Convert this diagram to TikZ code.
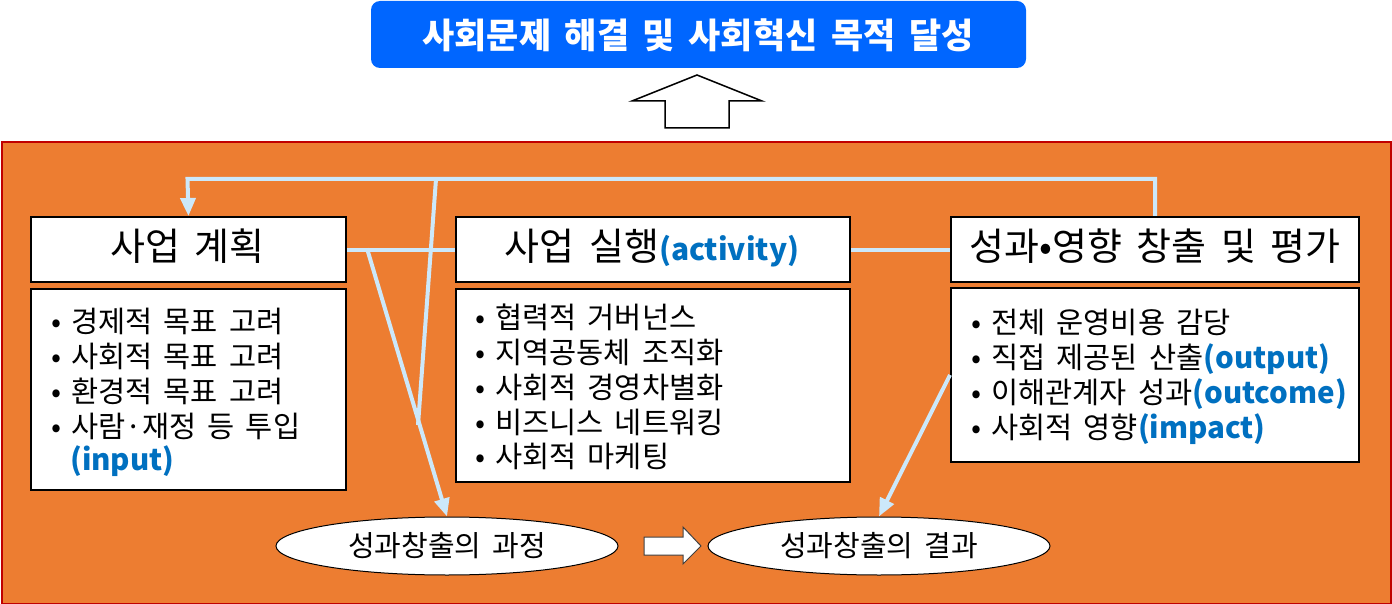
\documentclass[tikz,border=0pt]{standalone}
\usepackage{fontspec}
\setmainfont{Noto Sans CJK KR}
\newfontfamily\kr[WordSpace=1.7]{Noto Sans CJK KR}
\usetikzlibrary{arrows.meta,shapes.geometric}
\definecolor{topblue}{RGB}{0,102,255}
\definecolor{orangebg}{RGB}{237,125,49}
\definecolor{redborder}{RGB}{192,0,0}
\definecolor{conncol}{RGB}{204,232,250}
\definecolor{txtblue}{RGB}{0,112,192}
\tikzset{
  box/.style={draw=black,line width=2pt,fill=white,inner sep=0pt,anchor=north west},
  ttl/.style={anchor=base,inner sep=0pt,font=\kr\fontsize{38}{42}\selectfont},
  item/.style={anchor=base west,inner sep=0pt,font=\kr\fontsize{29.5}{35}\selectfont},
  conn/.style={draw=conncol,line width=4pt},
  tip/.style={-{Triangle[length=18pt,width=15pt]}},
  oval/.style={ellipse,draw=black,line width=1pt,fill=white,minimum width=342pt,minimum height=58pt,inner sep=0pt,font=\kr\fontsize{29}{32}\selectfont},
  blk/.style={draw=black,line width=1.5pt,fill=white,line join=miter}
}
\newcommand{\bl}[1]{\textcolor{txtblue}{\bfseries\fontsize{29.5}{35}\selectfont #1}}
\newcommand{\bul}{\makebox[20pt][l]{•}}
\begin{document}
\begin{tikzpicture}[x=1pt,y=-1pt]
\useasboundingbox (0,0) rectangle (1392,604);
% top goal box
\node[draw=none,fill=topblue,rounded corners=9pt,minimum width=655pt,minimum height=67pt,inner sep=0pt] (goal) at (698.5,34.5) {};
\node[anchor=base,inner sep=0pt,text=white,font=\kr\bfseries\fontsize{35}{40}\selectfont] (goaltxt) at (698,49) {사회문제 해결 및 사회혁신 목적 달성};
% up block arrow
\draw[blk] (697,75) -- (762,101) -- (729,101) -- (729,128) -- (665,128) -- (665,101) -- (632,101) -- cycle;
% orange panel
\node[draw=redborder,line width=2pt,fill=orangebg,anchor=north west,minimum width=1389pt,minimum height=462pt,inner sep=0pt] (panel) at (1,141) {};
% title boxes
\node[box,minimum width=315pt,minimum height=65pt] (b1) at (30,216) {};
\node[box,minimum width=394pt,minimum height=65pt] (b2) at (455,216) {};
\node[box,minimum width=408pt,minimum height=65pt] (b3) at (950,216) {};
% list boxes
\node[box,minimum width=315pt,minimum height=201pt] (l1) at (30,288) {};
\node[box,minimum width=394pt,minimum height=193pt] (l2) at (455,288) {};
\node[box,minimum width=408pt,minimum height=174pt] (l3) at (950,287) {};
% titles
\node[ttl] (t1) at (187.5,261) {사업 계획};
\node[ttl] (t2) at (652,261) {사업 실행\bl{\fontsize{30}{35}\selectfont(activity)}};
\node[ttl] (t3) at (1155,261) {성과•영향 창출 및 평가};
% list 1
\node[item] (i11) at (51,332) {\bul 경제적 목표 고려};
\node[item] (i12) at (51,367) {\bul 사회적 목표 고려};
\node[item] (i13) at (51,402) {\bul 환경적 목표 고려};
\node[item] (i14) at (51,437) {\bul 사람·재정 등 투입};
\node[item] (i15) at (70,470) {\bl{(input)}};
% list 2
\node[item] (i21) at (475,328) {\bul 협력적 거버넌스};
\node[item] (i22) at (475,363) {\bul 지역공동체 조직화};
\node[item] (i23) at (475,398) {\bul 사회적 경영차별화};
\node[item] (i24) at (475,433) {\bul 비즈니스 네트워킹};
\node[item] (i25) at (475,467) {\bul 사회적 마케팅};
% list 3
\node[item] (i31) at (971,333) {\bul 전체 운영비용 감당};
\node[item] (i32) at (971,368) {\bul 직접 제공된 산출\bl{(output)}};
\node[item] (i33) at (971,403) {\bul 이해관계자 성과\bl{(outcome)}};
\node[item] (i34) at (971,438) {\bul 사회적 영향\bl{(impact)}};
% ovals
\node[oval] (e1) at (447,546) {성과창출의 과정};
\node[oval] (e2) at (879,546) {성과창출의 결과};
% hollow right arrow
\draw[draw=black!75,line width=1pt,fill=white] (644,537) -- (683,537) -- (683,527) -- (701,546) -- (683,564) -- (683,555) -- (644,555) -- cycle;
% connectors
\coordinate (tl) at (187.5,179);
\coordinate (tr) at (1155,179);
\coordinate (vtop) at (436,179);
\coordinate (vbot) at (418,425);
\coordinate (dstart) at (367,248.5);
\draw[conn,tip] (b3.north -| tr) -- (tr) -- (tl) -- (b1.north);
\draw[conn] (vtop) -- (vbot);
\draw[conn] (b1.east) -- (b2.west);
\draw[conn] (b2.east) -- (b3.west);
\draw[conn,tip] (dstart) -- (e1.north);
\draw[conn,tip] (l3.west) -- (e2.north);
\end{tikzpicture}
\end{document}
